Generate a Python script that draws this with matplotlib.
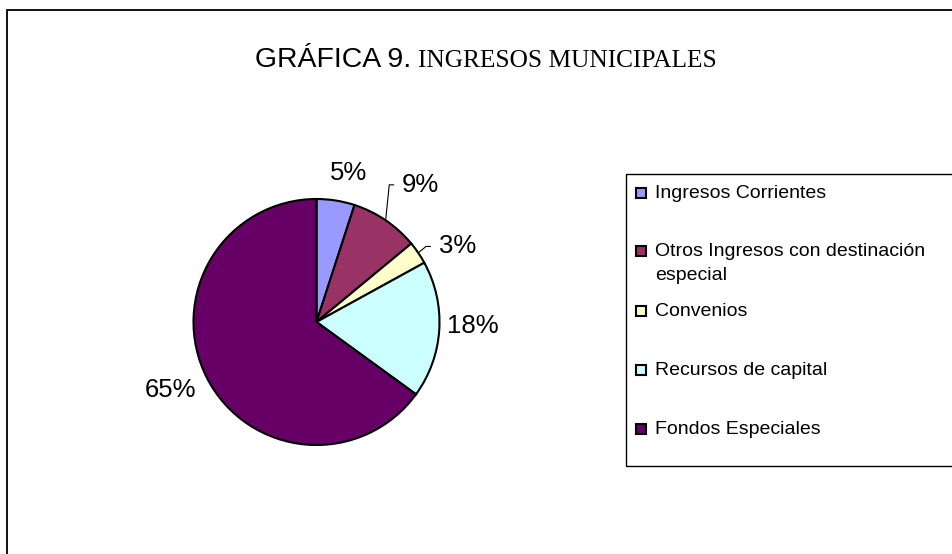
import matplotlib.pyplot as plt
import numpy as np
from matplotlib.patches import Rectangle

# data
categorias = ['Ingresos Corrientes', 'Otros Ingresos con destinación\nespecial',
              'Convenios', 'Recursos de capital', 'Fondos Especiales']
porcentajes = [5, 9, 3, 18, 65]
colores = ['#9999FF', '#993366', '#FFFFCC', '#CCFFFF', '#660066']

# label placement (layout only): radial distance and angle shift per slice
dist_etiqueta = [1.24, 1.40, 1.30, 1.27, 1.313]
giro_etiqueta = [-3, -3, -6, 2, -2.1]
con_guia = [False, True, True, False, False]
# legend rows (pixel y of first text baseline)
fila_leyenda = [198, 256, 316, 375, 434]
paso_linea = 24

W, H = 953, 554
cx, cy, R = 316.5, 322, 123.0   # pie centre / radius in pixels

fig = plt.figure(figsize=(W / 100, H / 100), dpi=100)
ax = fig.add_axes([0, 0, 1, 1])

wedges, _ = ax.pie(porcentajes, colors=colores, startangle=90, counterclock=False,
                   wedgeprops=dict(edgecolor='black', linewidth=1.5))
ax.set_xlim(-cx / R, (W - cx) / R)
ax.set_ylim(-(H - cy) / R, cy / R)
ax.set_aspect('auto')
ax.axis('off')

# mid angle of each slice (start at 12 o'clock, clockwise)
total = np.sum(porcentajes)
fin = np.cumsum(porcentajes) / total * 360
medio = 90 - (fin - np.array(porcentajes) / total * 180)

for m, p, d, g, guia in zip(medio, porcentajes, dist_etiqueta, giro_etiqueta, con_guia):
    mid = np.deg2rad(m)
    ang = mid + np.deg2rad(g)
    tx, ty = d * np.cos(ang), d * np.sin(ang)
    if guia:
        x0, y0 = np.cos(mid), np.sin(mid)
        xl = tx - 0.22
        ax.plot([x0, xl - 0.035, xl], [y0, ty, ty], color='black', lw=0.8)
    ax.text(tx, ty, f'{p}%', ha='center', va='center', fontsize=18.5,
            family='Liberation Sans')

# title: mixed fonts like the original
fig.text(255 / W, 1 - 67 / H, 'GRÁFICA 9.', family='Liberation Sans', fontsize=20.4,
         ha='left', va='baseline')
fig.text(418 / W, 1 - 67 / H, 'INGRESOS MUNICIPALES', family='Liberation Serif',
         fontsize=18.3, ha='left', va='baseline')

# outer chart border and legend box
fig.patches.append(Rectangle((7 / W, -0.1), 1.2, 1 - 10 / H + 0.1, transform=fig.transFigure,
                             fill=False, edgecolor='black', linewidth=1.3))
fig.patches.append(Rectangle((626 / W, 1 - 466 / H), 1.2, (466 - 174) / H,
                             transform=fig.transFigure, fill=False,
                             edgecolor='black', linewidth=1.0))

# legend entries
for nombre, color, y in zip(categorias, colores, fila_leyenda):
    fig.patches.append(Rectangle((636 / W, 1 - y / H), 10 / W, 10 / H,
                                 transform=fig.transFigure, facecolor=color,
                                 edgecolor='black', linewidth=1.5))
    for i, linea in enumerate(nombre.split('\n')):
        fig.text(655 / W, 1 - (y + i * paso_linea) / H, linea,
                 family='Liberation Sans', fontsize=14, ha='left', va='baseline')

fig.savefig('out.png', dpi=100)
